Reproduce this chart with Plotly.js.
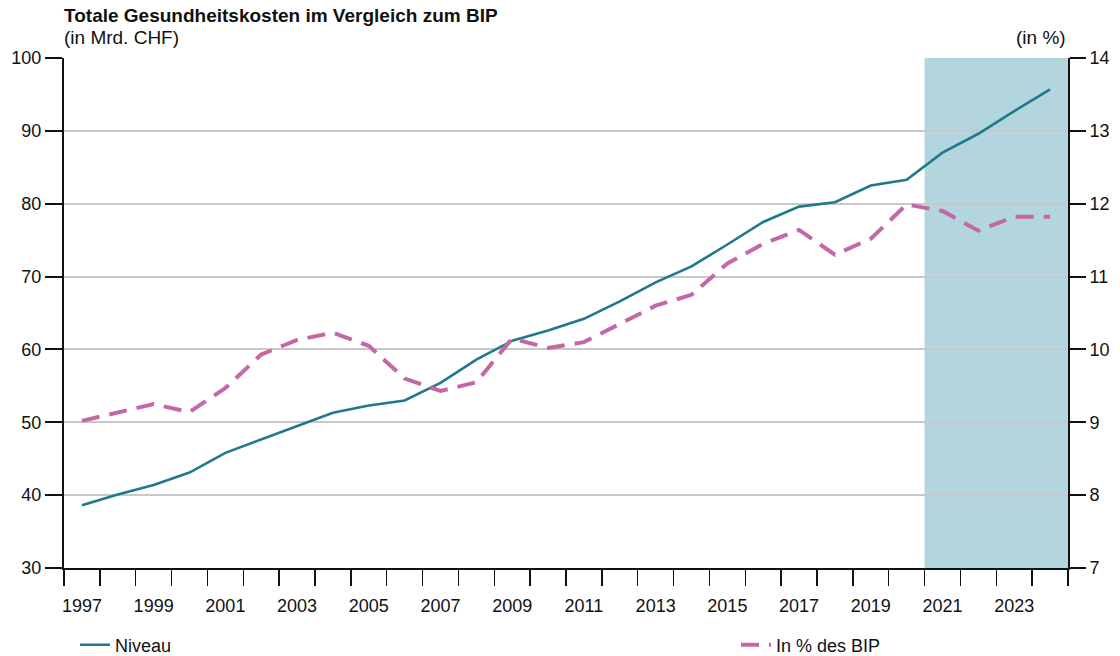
<!DOCTYPE html>
<html><head><meta charset="utf-8">
<script src="https://cdn.plot.ly/plotly-3.0.1.min.js"></script>
<style>html,body{margin:0;padding:0;background:#fff}#chart{width:1120px;height:656px}</style>
</head><body><div id="chart"></div>
<script>
const years = [1997,1998,1999,2000,2001,2002,2003,2004,2005,2006,2007,2008,2009,2010,2011,2012,2013,2014,2015,2016,2017,2018,2019,2020,2021,2022,2023,2024];
const niveau = [38.6,40.1,41.4,43.1,45.8,47.6,49.4,51.3,52.3,53.0,55.4,58.6,61.2,62.6,64.2,66.6,69.2,71.4,74.4,77.5,79.6,80.2,82.5,83.3,87.0,89.6,92.7,95.7];
const pctBIP = [9.02,9.13,9.25,9.14,9.47,9.93,10.13,10.23,10.05,9.60,9.43,9.55,10.15,10.02,10.10,10.35,10.60,10.75,11.18,11.45,11.64,11.30,11.52,11.99,11.90,11.63,11.82,11.82];
const tickYears = [1997,1999,2001,2003,2005,2007,2009,2011,2013,2015,2017,2019,2021,2023];
const tickLabels = tickYears.map(String);
const forecastFrom = 2020.5, forecastTo = 2024.5;
const leftTicks = [30,40,50,60,70,80,90,100];
const rightTicks = [7,8,9,10,11,12,13,14];

const fam = '"Liberation Sans", Arial, sans-serif';
const tf = {family:fam, size:18, color:'#111'};
const hf = {family:fam, size:19, color:'#111'};
const traces = [
  {x:years, y:niveau, type:'scatter', mode:'lines', name:'Niveau', line:{color:'#1d7a8b', width:2.6}, yaxis:'y', legend:'legend'},
  {x:years, y:pctBIP, type:'scatter', mode:'lines', name:'In % des BIP', line:{color:'#c467a6', width:4, dash:'18px,10px'}, yaxis:'y2', legend:'legend2'}
];
const layout = {
  width:1120, height:656,
  margin:{l:64, r:52, t:58, b:88, autoexpand:false},
  paper_bgcolor:'#fff', plot_bgcolor:'#fff',
  font:tf,
  showlegend:true,
  legend:{orientation:'h', x:(75-64)/1004, xanchor:'left', y:-0.151, yanchor:'middle', bgcolor:'rgba(0,0,0,0)', font:tf},
  legend2:{orientation:'h', x:(736-64)/1004, xanchor:'left', y:-0.151, yanchor:'middle', bgcolor:'rgba(0,0,0,0)', font:tf},
  title:{text:'<b>Totale Gesundheitskosten im Vergleich zum BIP</b>', x:64/1120, xanchor:'left', y:1-15/656, yanchor:'middle', font:hf},
  annotations:[
    {text:'(in Mrd. CHF)', xref:'paper', yref:'paper', x:0, xanchor:'left', xshift:-2, y:(568-38)/510, yanchor:'middle', showarrow:false, font:hf},
    {text:'(in %)', xref:'paper', yref:'paper', x:1, xanchor:'right', y:(568-38)/510, yanchor:'middle', showarrow:false, font:hf}
  ],
  shapes:[{type:'rect', xref:'x', yref:'paper', x0:forecastFrom, x1:forecastTo, y0:0, y1:1, fillcolor:'#b3d6de', line:{width:0}, layer:'below'}],
  xaxis:{range:[1996.5,2024.5], tickmode:'array', tickvals:tickYears, ticktext:tickLabels, ticks:'', showgrid:false, zeroline:false,
    showline:true, linecolor:'#111', linewidth:2, ticklabelstandoff:20,
    minor:{tick0:1996.5, dtick:1, ticks:'outside', ticklen:16, tickwidth:1.5, tickcolor:'#111', showgrid:false},
    tickfont:tf},
  yaxis:{range:[30,100], tickmode:'array', tickvals:leftTicks, ticks:'outside', ticklen:17, tickwidth:2, tickcolor:'#111',
    showline:true, linecolor:'#111', linewidth:2, showgrid:true, gridcolor:'#c8c8c8', gridwidth:2, zeroline:false,
    tickfont:tf},
  yaxis2:{range:[7,14], overlaying:'y', side:'right', tickmode:'array', tickvals:rightTicks, ticks:'outside', ticklen:16, tickwidth:2, tickcolor:'#111',
    showline:true, linecolor:'#111', linewidth:2, showgrid:false, zeroline:false,
    tickfont:tf}
};
Plotly.newPlot('chart', traces, layout, {displayModeBar:false, staticPlot:true});
</script></body></html>
